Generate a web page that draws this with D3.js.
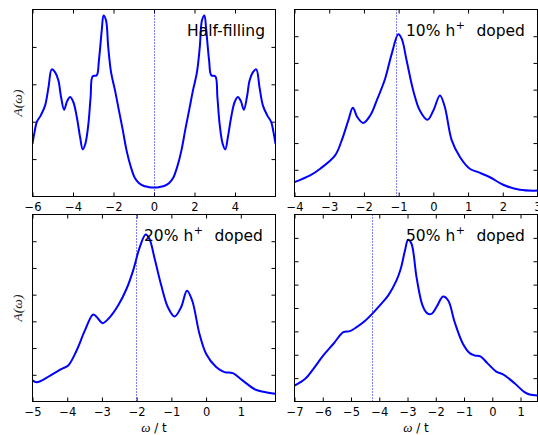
<!DOCTYPE html>
<html>
<head>
<meta charset="utf-8">
<script src="https://cdn.jsdelivr.net/npm/d3@7"></script>
<style>
  body { margin: 0; background: #fff; }
  svg { display: block; font-family: "DejaVu Sans", sans-serif; }
</style>
</head>
<body>
<div id="chart"></div>
<script>
// spectral function A(w) (arbitrary units = y tick steps)
var omegaHalf = [-6.0, -5.9, -5.79, -5.59, -5.38, -5.21, -5.05, -4.88, -4.72, -4.59, -4.44, -4.29, -4.14, -3.98,
    -3.81, -3.65, -3.52, -3.39, -3.24, -3.13, -3.03, -2.83, -2.72, -2.58, -2.49, -2.37, -2.26, -2.12, -1.93,
    -1.75, -1.55, -1.35, -1.15, -0.95, -0.75, -0.5, -0.25, 0,
    0.25, 0.5, 0.75, 0.95, 1.15, 1.35, 1.55, 1.75,
    1.93, 2.12, 2.26, 2.37, 2.49, 2.58, 2.72, 2.83, 3.03, 3.13, 3.24,
    3.39, 3.52, 3.65, 3.81, 3.98, 4.14, 4.29, 4.44, 4.59, 4.72, 4.88, 5.05, 5.21, 5.38, 5.59, 5.79, 5.9, 6.0];
var specHalf = [1.41, 1.72, 1.99, 2.17, 2.43, 2.92, 3.40, 3.32, 3.10, 2.66, 2.32, 2.55, 2.66, 2.52,
    2.12, 1.59, 1.26, 1.41, 1.94, 2.66, 3.21, 3.24, 3.64, 4.44, 4.84, 4.71, 3.99, 3.32, 2.85,
    2.35, 1.80, 1.22, 0.80, 0.50, 0.36, 0.28, 0.25, 0.24,
    0.25, 0.28, 0.36, 0.50, 0.80, 1.22, 1.80, 2.35,
    2.85, 3.32, 3.99, 4.71, 4.84, 4.44, 3.64, 3.24, 3.21, 2.66, 1.94,
    1.41, 1.26, 1.59, 2.12, 2.52, 2.66, 2.55, 2.32, 2.66, 3.10, 3.32, 3.40, 2.92, 2.43, 2.17, 1.99, 1.72, 1.41];

var omega10 = [-4.0, -3.55, -3.26, -2.83, -2.64, -2.45, -2.32, -2.19, -2.02, -1.82, -1.63, -1.39, -1.2, -1.01,
    -0.91, -0.77, -0.58, -0.39, -0.17, 0.0, 0.19, 0.33, 0.53, 0.77, 1.05, 1.29, 1.63, 2.01, 2.49, 3.0];
var spec10 = [0.54, 0.79, 1.04, 1.54, 2.10, 2.85, 3.32, 2.97, 2.75, 3.03, 3.60, 4.41, 5.34, 6.07,
    5.90, 5.09, 3.97, 3.22, 2.87, 3.22, 3.78, 3.35, 2.10, 1.47, 1.04, 0.91, 0.72, 0.44, 0.25, 0.22];

var omega20 = [-5.0, -4.88, -4.49, -4.16, -3.97, -3.73, -3.49, -3.25, -3.11, -2.98, -2.77, -2.53, -2.29, -2.1,
    -1.91, -1.74, -1.63, -1.48, -1.29, -1.1, -0.91, -0.72, -0.55, -0.4, -0.19, 0.0, 0.29, 0.53, 0.77,
    1.05, 1.43, 1.72, 1.99];
var spec20 = [0.79, 0.72, 0.97, 1.22, 1.35, 1.91, 2.66, 3.26, 3.10, 2.93, 3.16, 3.60, 4.22, 4.91,
    5.78, 6.25, 6.08, 5.34, 4.34, 3.53, 3.18, 3.53, 4.15, 3.78, 2.53, 1.79, 1.29, 1.10, 1.06,
    0.79, 0.44, 0.35, 0.29];

var omega50 = [-7.0, -6.62, -6.33, -5.98, -5.62, -5.27, -5.04, -4.8, -4.51, -4.25, -3.98, -3.68, -3.39, -3.24,
    -3.09, -2.98, -2.86, -2.68, -2.47, -2.31, -2.15, -1.98, -1.74, -1.56, -1.33, -1.04, -0.8, -0.62,
    -0.42, -0.15, 0.14, 0.38, 0.79, 1.14, 1.32, 1.6];
var spec50 = [0.68, 0.97, 1.40, 1.97, 2.47, 2.97, 3.01, 3.18, 3.44, 3.75, 4.11, 4.54, 5.18, 5.68,
    6.46, 6.92, 6.75, 5.31, 4.11, 3.78, 3.75, 4.03, 4.49, 4.32, 3.39, 2.47, 2.07, 1.97,
    1.93, 1.61, 1.28, 1.16, 0.78, 0.40, 0.30, 0.26];

// chemical potential (dotted line)
var muValues = [0, -1.06, -2.0, -4.25];
var panelNames = ["Half-filling", "10%", "20%", "50%"];
var xDomains = [[-6, 6], [-4, 3], [-5, 2], [-7, 1.6]];
var xTickValues = [[-6, -4, -2, 0, 2, 4], [-4, -3, -2, -1, 0, 1, 2, 3],
    [-5, -4, -3, -2, -1, 0, 1], [-7, -6, -5, -4, -3, -2, -1, 0, 1]];
var yTickCounts = [5, 7, 7, 8];

var omegas = [omegaHalf, omega10, omega20, omega50];
var specs = [specHalf, spec10, spec20, spec50];

var W = 538, H = 435;
var boxes = [
    {left: 32.5, top: 9.5, width: 243, height: 187},
    {left: 294.5, top: 9.5, width: 243, height: 187},
    {left: 32.5, top: 214.5, width: 243, height: 187},
    {left: 294.5, top: 214.5, width: 243, height: 187}
];

var svg = d3.select('#chart').append('svg')
    .attr('width', W)
    .attr('height', H);

var fmt = d3.format('d');

boxes.forEach(function(b, i) {
    var x = d3.scaleLinear().domain(xDomains[i]).range([0, b.width]);
    var y = d3.scaleLinear().domain([0, yTickCounts[i]]).range([b.height, 0]);
    var yTicks = d3.range(1, yTickCounts[i]);

    var g = svg.append('g').attr('transform', 'translate(' + b.left + ',' + b.top + ')');

    g.append('clipPath').attr('id', 'clip' + i)
        .append('rect').attr('width', b.width).attr('height', b.height);

    // ticks, inward on all four sides
    var bottom = g.append('g').attr('transform', 'translate(0,' + b.height + ')')
        .call(d3.axisBottom(x).tickValues(xTickValues[i]).tickFormat(fmt).tickSize(-4).tickPadding(6));
    g.append('g').call(d3.axisTop(x).tickValues(xTickValues[i]).tickSize(-4).tickFormat(''));
    g.append('g').call(d3.axisLeft(y).tickValues(yTicks).tickSize(-4).tickFormat(''));
    g.append('g').attr('transform', 'translate(' + b.width + ',0)')
        .call(d3.axisRight(y).tickValues(yTicks).tickSize(-4).tickFormat(''));

    g.selectAll('.domain').remove();
    g.selectAll('.tick line').attr('stroke', '#000').attr('stroke-width', 1);
    bottom.selectAll('text')
        .style('font-family', '"DejaVu Sans", sans-serif')
        .style('font-size', '11.5px')
        .attr('fill', '#000');

    // dotted line at the chemical potential (snapped to a pixel column)
    var xm = Math.round(x(muValues[i]) + b.left - 0.5) + 0.5 - b.left;
    g.append('line')
        .attr('x1', xm).attr('x2', xm)
        .attr('y1', 0).attr('y2', b.height)
        .attr('stroke', '#0000ff')
        .attr('stroke-width', 1)
        .attr('stroke-dasharray', '1,2');

    var pts = omegas[i].map(function(w, k) { return [w, specs[i][k]]; });
    var line = d3.line()
        .x(function(d) { return x(d[0]); })
        .y(function(d) { return y(d[1]); })
        .curve(d3.curveCatmullRom.alpha(0.5));

    g.append('path')
        .datum(pts)
        .attr('clip-path', 'url(#clip' + i + ')')
        .attr('fill', 'none')
        .attr('stroke', '#0000ff')
        .attr('stroke-width', 2)
        .attr('d', line);

    g.append('rect')
        .attr('width', b.width).attr('height', b.height)
        .attr('fill', 'none').attr('stroke', '#000').attr('stroke-width', 1);

    // panel label
    if (i === 0) {
        g.append('text')
            .attr('x', 154.5).attr('y', 26.5)
            .style('font-size', '15.5px')
            .text(panelNames[i]);
    } else {
        var t = g.append('text')
            .attr('x', 111.5).attr('y', 26.5)
            .style('font-size', '15.5px');
        t.append('tspan').text(panelNames[i] + ' h');
        t.append('tspan').attr('dx', 0.5).attr('dy', -7.5).style('font-size', '11px').text('+');
        t.append('tspan').attr('dx', 11.5).attr('dy', 7.5).text('doped');
    }

    // axis titles
    if (i % 2 === 0) {
        svg.append('text')
            .attr('transform', 'translate(22,' + (b.top + b.height / 2) + ') rotate(-90)')
            .attr('text-anchor', 'middle')
            .style('font-family', '"Liberation Serif", serif')
            .style('font-style', 'italic')
            .style('font-size', '13.5px')
            .attr('fill', '#222')
            .text('A(ω)');
    }
    if (i >= 2) {
        var xt = svg.append('text')
            .attr('x', b.left + b.width / 2).attr('y', 431.5)
            .attr('text-anchor', 'middle')
            .style('font-size', '12px');
        xt.append('tspan').style('font-family', '"Liberation Serif", serif')
            .style('font-style', 'italic').style('font-size', '13px').text('ω');
        xt.append('tspan').text(' / t');
    }
});
</script>
</body>
</html>
